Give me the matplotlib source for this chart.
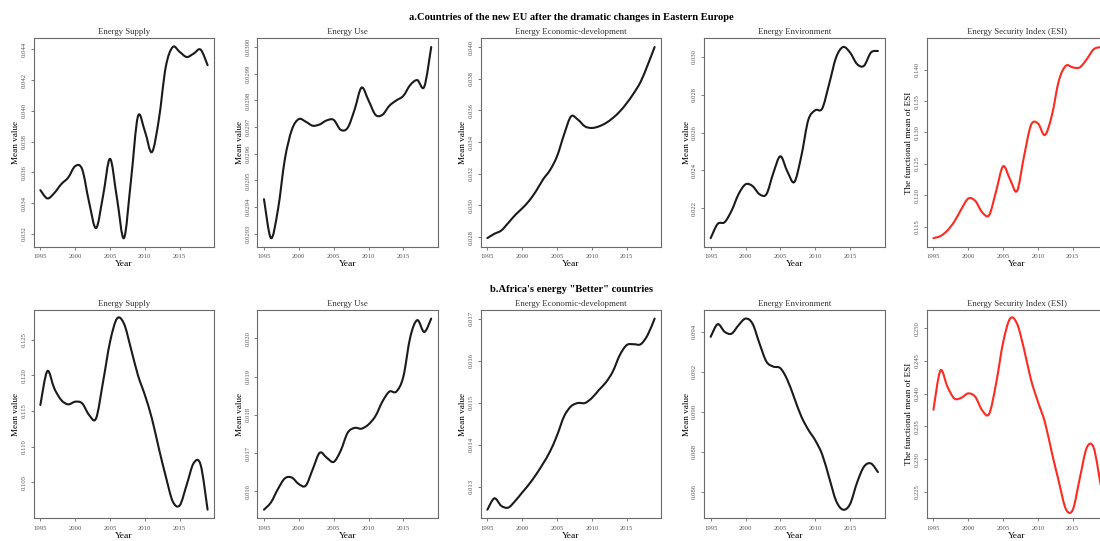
import matplotlib
matplotlib.use('Agg')
import matplotlib.pyplot as plt
from matplotlib.path import Path
from matplotlib.patches import PathPatch

plt.rcParams['font.family'] = ['Liberation Serif', 'DejaVu Serif']

years = list(range(1995, 2020))

# a. new EU countries
eu_supply = [0.03484, 0.0343, 0.03465, 0.03523, 0.03566, 0.0364, 0.0362, 0.03404, 0.03237,
             0.03447, 0.03688, 0.0343, 0.03172, 0.03545, 0.03963, 0.03867, 0.03731, 0.03942,
             0.04286, 0.04415, 0.04383, 0.0435, 0.04372, 0.04398, 0.04297]
eu_use = [0.02943, 0.029284, 0.02939, 0.02958, 0.02969, 0.02973, 0.02972, 0.029705, 0.02971,
          0.029725, 0.029727, 0.02969, 0.029697, 0.029765, 0.029848, 0.0298, 0.029746, 0.029746,
          0.02978, 0.0298, 0.029817, 0.029858, 0.029876, 0.029851, 0.0300]
eu_econ = [0.02794, 0.02821, 0.02842, 0.0289, 0.0294, 0.02982, 0.0303, 0.03092, 0.03165,
           0.03224, 0.03311, 0.03447, 0.03562, 0.03541, 0.03499, 0.03489, 0.03499, 0.0352,
           0.03552, 0.03593, 0.03646, 0.03708, 0.03781, 0.03886, 0.0400]
eu_env = [0.02043, 0.02118, 0.02127, 0.02188, 0.02275, 0.02327, 0.02318, 0.02275, 0.02275,
          0.02388, 0.02475, 0.02395, 0.02339, 0.02475, 0.02666, 0.02718, 0.02727, 0.02857,
          0.02997, 0.03052, 0.03023, 0.02962, 0.02953, 0.03023, 0.03031]
eu_esi = [0.11316, 0.11348, 0.11437, 0.11579, 0.11778, 0.11946, 0.1191, 0.11726, 0.11684,
          0.12067, 0.12461, 0.12251, 0.12067, 0.12619, 0.13118, 0.13144, 0.1296, 0.13275,
          0.13827, 0.14063, 0.14037, 0.14037, 0.14168, 0.14326, 0.14362]

# b. Africa "Better" countries
af_supply = [0.11584, 0.12058, 0.11816, 0.11653, 0.11593, 0.1163, 0.11607, 0.11444, 0.11398,
             0.11909, 0.12467, 0.12793, 0.12723, 0.12374, 0.12002, 0.11723, 0.11398, 0.10979,
             0.10584, 0.10235, 0.10179, 0.10467, 0.1077, 0.10747, 0.10119]
af_use = [0.01552, 0.01571, 0.01606, 0.01634, 0.01636, 0.01619, 0.01615, 0.01658, 0.01701,
          0.01688, 0.01677, 0.01706, 0.01753, 0.01766, 0.01764, 0.01775, 0.01797, 0.01835,
          0.01861, 0.01861, 0.0190, 0.02004, 0.02048, 0.02017, 0.02052]
af_econ = [0.01245, 0.01272, 0.01254, 0.0125, 0.01266, 0.01286, 0.01306, 0.01329, 0.01355,
           0.01384, 0.01422, 0.01467, 0.01491, 0.01499, 0.01499, 0.01511, 0.0153, 0.01548,
           0.01574, 0.01613, 0.01637, 0.01639, 0.01639, 0.01661, 0.0170]
af_env = [0.09375, 0.09438, 0.094, 0.09391, 0.09433, 0.09466, 0.09441, 0.09342, 0.09251,
          0.09226, 0.09218, 0.0916, 0.09069, 0.08977, 0.08911, 0.08858, 0.08787, 0.08671,
          0.08555, 0.08511, 0.08539, 0.08646, 0.08726, 0.08742, 0.08699]
af_esi = [0.23755, 0.24352, 0.24108, 0.23926, 0.23937, 0.24004, 0.23952, 0.23745, 0.23693,
          0.2416, 0.24782, 0.25145, 0.25067, 0.24678, 0.24212, 0.23874, 0.23563, 0.23096,
          0.22656, 0.22241, 0.2223, 0.22707, 0.23174, 0.23174, 0.22604]

panel_titles = ["Energy Supply", "Energy Use", "Energy Economic-development",
                "Energy Environment", "Energy Security Index (ESI)"]
row_titles = ["a.Countries of the new EU after the dramatic changes in Eastern Europe",
              "b.Africa's energy \"Better\" countries"]
x_ticks = [1995, 2000, 2005, 2010, 2015]

eu_yticks = [
    ["0.032", "0.034", "0.036", "0.038", "0.040", "0.042", "0.044"],
    ["0.0293", "0.0294", "0.0295", "0.0296", "0.0297", "0.0298", "0.0299", "0.0300"],
    ["0.028", "0.030", "0.032", "0.034", "0.036", "0.038", "0.040"],
    ["0.022", "0.024", "0.026", "0.028", "0.030"],
    ["0.115", "0.120", "0.125", "0.130", "0.135", "0.140"],
]
af_yticks = [
    ["0.105", "0.110", "0.115", "0.120", "0.125"],
    ["0.016", "0.017", "0.018", "0.019", "0.020"],
    ["0.013", "0.014", "0.015", "0.016", "0.017"],
    ["0.086", "0.088", "0.090", "0.092", "0.094"],
    ["0.225", "0.230", "0.235", "0.240", "0.245", "0.250"],
]

rows = [
    ([eu_supply, eu_use, eu_econ, eu_env, eu_esi], eu_yticks),
    ([af_supply, af_use, af_econ, af_env, af_esi], af_yticks),
]


def smooth_path(xs, ys):
    """Smooth (Catmull-Rom as cubic Bezier) path passing through the data points."""
    pts = list(zip(xs, ys))
    n = len(pts)
    verts = [pts[0]]
    codes = [Path.MOVETO]
    for i in range(n - 1):
        p0 = pts[i - 1] if i > 0 else pts[i]
        p1 = pts[i]
        p2 = pts[i + 1]
        p3 = pts[i + 2] if i + 2 < n else pts[i + 1]
        c1 = (p1[0] + (p2[0] - p0[0]) / 6.0, p1[1] + (p2[1] - p0[1]) / 6.0)
        c2 = (p2[0] - (p3[0] - p1[0]) / 6.0, p2[1] - (p3[1] - p1[1]) / 6.0)
        verts += [c1, c2, p2]
        codes += [Path.CURVE4] * 3
    return Path(verts, codes)


fig = plt.figure(figsize=(11, 5.41), dpi=100)

lefts = [0.0306, 0.2339, 0.4370, 0.6400, 0.8425]
width = 0.1642
row_pos = [(0.544, 0.385), (0.042, 0.385)]
suptitle_y = [1 - 17 / 541, 1 - 290 / 541]

frame_col = '#6a6a6a'
tick_col = '#555555'

for r, (series_list, yticks_list) in enumerate(rows):
    bottom, height = row_pos[r]
    for c in range(5):
        ax = fig.add_axes([lefts[c], bottom, width, height])
        color = '#ff2a1f' if c == 4 else '#1a1a1a'
        vals = series_list[c]
        patch = PathPatch(smooth_path(years, vals), facecolor='none', edgecolor=color,
                          lw=1.5, capstyle='round', joinstyle='round')
        ax.add_patch(patch)
        xr = years[-1] - years[0]
        ax.set_xlim(years[0] - 0.04 * xr, years[-1] + 0.04 * xr)
        lo, hi = min(vals), max(vals)
        yr = hi - lo
        ax.set_ylim(lo - 0.045 * yr, hi + 0.045 * yr)
        yt = yticks_list[c]
        ax.set_yticks([float(v) for v in yt])
        ax.set_yticklabels(yt, rotation=90, va='center', fontsize=4.8, color=tick_col)
        ax.set_xticks(x_ticks)
        ax.set_xticklabels([str(v) for v in x_ticks], fontsize=4.8, color=tick_col)
        ax.tick_params(axis='both', direction='out', length=2.5, width=0.6,
                       color=frame_col)
        ax.tick_params(axis='x', pad=3)
        ax.tick_params(axis='y', pad=2.5)
        for sp in ax.spines.values():
            sp.set_color(frame_col)
            sp.set_linewidth(0.8)
        ax.set_title(panel_titles[c], fontsize=6.3, color='#333333', pad=3)
        ax.set_xlabel("Year", fontsize=6.8, labelpad=0.5)
        if c == 4:
            ax.set_ylabel("The functional mean of ESI", fontsize=6.6, labelpad=1)
        else:
            ax.set_ylabel("Mean value", fontsize=6.6, labelpad=1)
    fig.text(lefts[2] + width / 2, suptitle_y[r], row_titles[r], ha='center',
             va='center', fontsize=7.6, fontweight='bold')

fig.savefig("out.png", dpi=100)
